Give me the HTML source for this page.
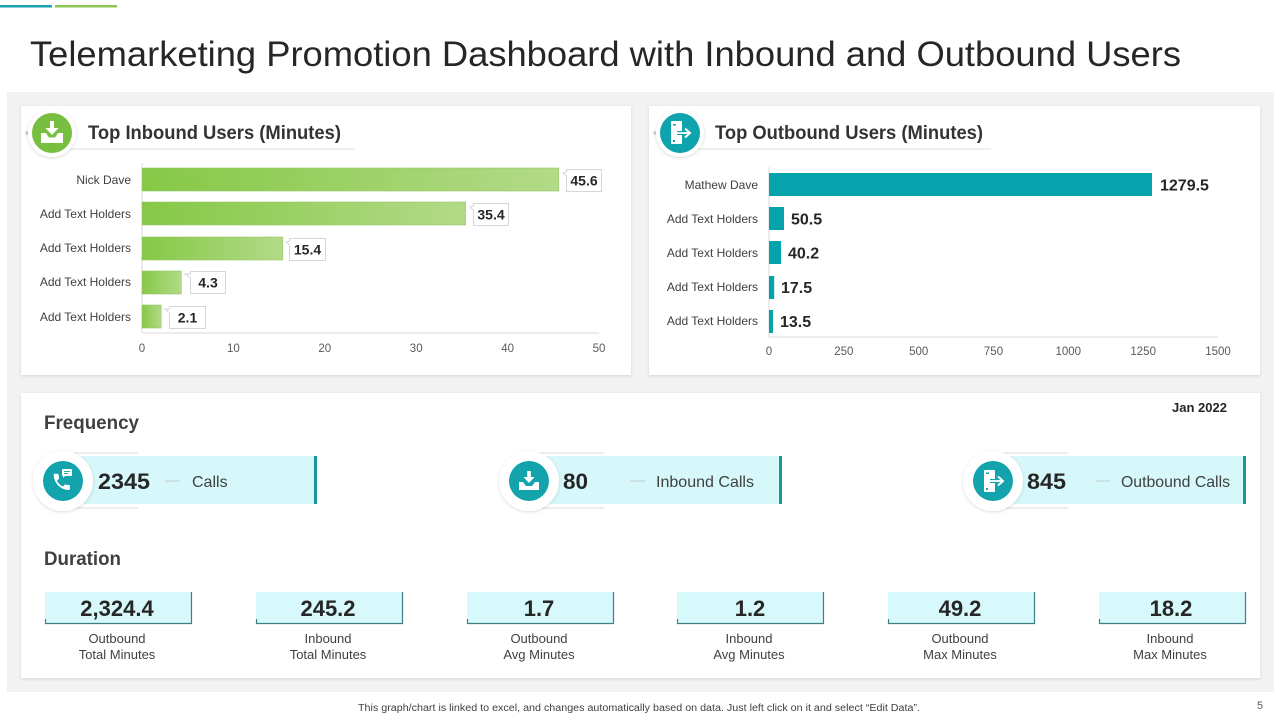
<!DOCTYPE html>
<html><head><meta charset="utf-8"><style>
html,body{margin:0;padding:0;background:#fff;}
svg{display:block;}
text{font-family:"Liberation Sans",Arial,sans-serif;}
</style></head><body>
<svg width="1280" height="720" viewBox="0 0 1280 720" xmlns="http://www.w3.org/2000/svg">
<defs>
<linearGradient id="g" x1="0" x2="1" y1="0" y2="0"><stop offset="0" stop-color="#86c846"/><stop offset="1" stop-color="#b3da88"/></linearGradient>
<filter id="sh" x="-5%" y="-5%" width="110%" height="110%"><feDropShadow dx="0" dy="1" stdDeviation="1.5" flood-color="#000" flood-opacity="0.12"/></filter>
<filter id="sh2" x="-30%" y="-30%" width="160%" height="160%"><feDropShadow dx="0" dy="1" stdDeviation="1.5" flood-color="#000" flood-opacity="0.15"/></filter>
</defs>
<rect width="1280" height="720" fill="#fff"/>
<rect x="0" y="5" width="52" height="2.5" fill="#1aa3ad"/>
<rect x="55" y="5" width="62" height="2.5" fill="#8cc751"/>
<text x="30" y="66" font-size="35" fill="#262626" textLength="1151" lengthAdjust="spacingAndGlyphs">Telemarketing Promotion Dashboard with Inbound and Outbound Users</text>

<rect x="7" y="92" width="1267" height="600" fill="#f2f2f2"/>
<rect x="21" y="106" width="610" height="269" fill="#fff" filter="url(#sh)"/>
<rect x="649" y="106" width="611" height="269" fill="#fff" filter="url(#sh)"/>
<rect x="21" y="393" width="1239" height="285" fill="#fff" filter="url(#sh)"/>

<!-- Inbound header -->
<line x1="52" y1="149" x2="355" y2="149" stroke="#e4e4e4" stroke-width="1.2"/>
<circle cx="27" cy="133" r="2" fill="#d4d4d4"/>
<circle cx="52" cy="133" r="24" fill="#fff" filter="url(#sh2)"/>
<circle cx="52" cy="133" r="20" fill="#78be40"/>
<path d="M41 133 L46 133 L49 137.5 L55 137.5 L58 133 L63 133 L63 143 L41 143 Z" fill="#fff"/>
<rect x="50" y="121" width="4" height="8" fill="#fff"/>
<polygon points="45.5,128 58.5,128 52,135" fill="#fff"/>
<text x="88" y="139" font-size="19" font-weight="bold" fill="#333" textLength="253" lengthAdjust="spacingAndGlyphs">Top Inbound Users (Minutes)</text>

<!-- Outbound header -->
<line x1="680" y1="149" x2="991" y2="149" stroke="#e4e4e4" stroke-width="1.2"/>
<circle cx="655" cy="133" r="2" fill="#d4d4d4"/>
<circle cx="680" cy="133" r="24" fill="#fff" filter="url(#sh2)"/>
<circle cx="680" cy="133" r="20" fill="#0fa3ad"/>
<rect x="671" y="121" width="11" height="23" rx="1" fill="#fff"/>
<rect x="673" y="124" width="3" height="1.5" fill="#0fa3ad"/>
<rect x="673" y="140" width="2" height="2" fill="#0fa3ad"/>
<path d="M677 133 H689" stroke="#0fa3ad" stroke-width="4"/>
<path d="M677 133 H689" stroke="#fff" stroke-width="1.8"/>
<polyline points="685,128.5 690,133 685,137.5" fill="none" stroke="#fff" stroke-width="2"/>
<text x="715" y="139" font-size="19" font-weight="bold" fill="#333" textLength="268" lengthAdjust="spacingAndGlyphs">Top Outbound Users (Minutes)</text>

<!-- Inbound chart -->
<line x1="142" y1="163" x2="142" y2="333" stroke="#d9d9d9"/>
<line x1="142" y1="333" x2="599" y2="333" stroke="#d9d9d9"/>
<g font-size="12" fill="#404040" text-anchor="end">
<text x="131" y="184">Nick Dave</text>
<text x="131" y="218">Add Text Holders</text>
<text x="131" y="252">Add Text Holders</text>
<text x="131" y="286">Add Text Holders</text>
<text x="131" y="321">Add Text Holders</text>
</g>
<g fill="url(#g)" stroke="#93c865" stroke-width="0.6">
<rect x="142" y="168" width="416.8" height="23"/>
<rect x="142" y="202" width="323.6" height="23"/>
<rect x="142" y="237" width="140.8" height="23"/>
<rect x="142" y="271" width="39.3" height="23"/>
<rect x="142" y="305" width="19.2" height="23"/>
</g>
<g fill="#fff" stroke="#d6d6d6" stroke-width="1">
<path d="M566.5 169.5 H601.5 V191.5 H566.5 V176 L563 173 L566.5 172 Z"/>
<path d="M473.5 203.5 H508.5 V225.5 H473.5 V210 L470 207 L473.5 206 Z"/>
<path d="M289.5 238.5 H325.5 V260.5 H289.5 V245 L286 242 L289.5 241 Z"/>
<path d="M190.5 271.5 H225.5 V293.5 H190.5 V278 L185 274 L190.5 274 Z"/>
<path d="M169.5 306.5 H205.5 V328.5 H169.5 V313 L165 309 L169.5 309 Z"/>
</g>
<g font-size="14" font-weight="bold" fill="#262626" text-anchor="middle">
<text x="584" y="185.5">45.6</text>
<text x="491" y="219.5">35.4</text>
<text x="307.5" y="254.5">15.4</text>
<text x="208" y="287.5">4.3</text>
<text x="187.5" y="322.5">2.1</text>
</g>
<g font-size="11.5" fill="#595959" text-anchor="middle">
<text x="142" y="352">0</text>
<text x="233.4" y="352">10</text>
<text x="324.8" y="352">20</text>
<text x="416.2" y="352">30</text>
<text x="507.6" y="352">40</text>
<text x="599" y="352">50</text>
</g>

<!-- Outbound chart -->
<line x1="769" y1="167" x2="769" y2="337" stroke="#d9d9d9"/>
<line x1="769" y1="337" x2="1218" y2="337" stroke="#d9d9d9"/>
<g font-size="12" fill="#404040" text-anchor="end">
<text x="758" y="189">Mathew Dave</text>
<text x="758" y="223">Add Text Holders</text>
<text x="758" y="257">Add Text Holders</text>
<text x="758" y="291">Add Text Holders</text>
<text x="758" y="325">Add Text Holders</text>
</g>
<g fill="#06a3ad">
<rect x="769" y="173" width="383" height="23"/>
<rect x="769" y="207" width="15" height="23"/>
<rect x="769" y="241" width="12" height="23"/>
<rect x="769" y="276" width="5.2" height="23"/>
<rect x="769" y="310" width="4" height="23"/>
</g>
<g font-size="16" font-weight="bold" fill="#262626">
<text x="1160" y="190.5">1279.5</text>
<text x="791" y="224.5">50.5</text>
<text x="788" y="258.5">40.2</text>
<text x="781" y="293">17.5</text>
<text x="780" y="327">13.5</text>
</g>
<g font-size="11.5" fill="#595959" text-anchor="middle">
<text x="769" y="355">0</text>
<text x="843.8" y="355">250</text>
<text x="918.7" y="355">500</text>
<text x="993.5" y="355">750</text>
<text x="1068.3" y="355">1000</text>
<text x="1143.2" y="355">1250</text>
<text x="1218" y="355">1500</text>
</g>

<!-- Frequency -->
<text x="44" y="429" font-size="19" font-weight="bold" fill="#404040" textLength="95" lengthAdjust="spacingAndGlyphs">Frequency</text>
<text x="1172" y="412" font-size="12.5" font-weight="bold" fill="#262626" textLength="55" lengthAdjust="spacingAndGlyphs">Jan 2022</text>

<!-- pill 1 -->
<line x1="63" y1="453" x2="138" y2="453" stroke="#dcdcdc"/>
<line x1="63" y1="508" x2="138" y2="508" stroke="#dcdcdc"/>
<rect x="63" y="456" width="251" height="48" fill="#d6f8fa"/>
<rect x="314" y="456" width="3" height="48" fill="#16979e"/>
<circle cx="63" cy="481" r="30" fill="#fff" filter="url(#sh2)"/>
<circle cx="63" cy="481" r="20" fill="#12a3ad"/>
<path transform="translate(51,471) scale(0.9)" d="M6.62 10.79c1.44 2.83 3.76 5.14 6.59 6.59l2.2-2.2c.27-.27.67-.36 1.02-.24 1.12.37 2.33.57 3.57.57.55 0 1 .45 1 1V20c0 .55-.45 1-1 1-9.39 0-17-7.61-17-17 0-.55.45-1 1-1h3.5c.55 0 1 .45 1 1 0 1.25.2 2.45.57 3.57.11.35.03.74-.25 1.02l-2.2 2.2z" fill="#fff"/>
<rect x="62" y="469" width="10" height="7" rx="1" fill="#fff"/>
<polygon points="63,475 66,475 63,478" fill="#fff"/>
<line x1="64" y1="471.5" x2="70" y2="471.5" stroke="#12a3ad" stroke-width="0.9"/>
<line x1="64" y1="473.5" x2="68" y2="473.5" stroke="#12a3ad" stroke-width="0.9"/>
<text x="98" y="489" font-size="22" font-weight="bold" fill="#262626" textLength="52" lengthAdjust="spacingAndGlyphs">2345</text>
<line x1="165" y1="481" x2="180" y2="481" stroke="#c8c8c8"/>
<text x="192" y="487" font-size="16" fill="#404040">Calls</text>

<!-- pill 2 -->
<line x1="529" y1="453" x2="604" y2="453" stroke="#dcdcdc"/>
<line x1="529" y1="508" x2="604" y2="508" stroke="#dcdcdc"/>
<rect x="529" y="456" width="250" height="48" fill="#d6f8fa"/>
<rect x="779" y="456" width="3" height="48" fill="#16979e"/>
<circle cx="529" cy="481" r="30" fill="#fff" filter="url(#sh2)"/>
<circle cx="529" cy="481" r="20" fill="#12a3ad"/>
<path d="M519 482 L523 482 L526 486 L532 486 L535 482 L539 482 L539 490 L519 490 Z" fill="#fff"/>
<rect x="527.2" y="471" width="3.6" height="7" fill="#fff"/>
<polygon points="523.5,477 534.5,477 529,483" fill="#fff"/>
<text x="563" y="489" font-size="22" font-weight="bold" fill="#262626" textLength="25" lengthAdjust="spacingAndGlyphs">80</text>
<line x1="630" y1="481" x2="645" y2="481" stroke="#c8c8c8"/>
<text x="656" y="487" font-size="16" fill="#404040" textLength="98" lengthAdjust="spacingAndGlyphs">Inbound Calls</text>

<!-- pill 3 -->
<line x1="993" y1="453" x2="1068" y2="453" stroke="#dcdcdc"/>
<line x1="993" y1="508" x2="1068" y2="508" stroke="#dcdcdc"/>
<rect x="993" y="456" width="250" height="48" fill="#d6f8fa"/>
<rect x="1243" y="456" width="3" height="48" fill="#16979e"/>
<circle cx="993" cy="481" r="30" fill="#fff" filter="url(#sh2)"/>
<circle cx="993" cy="481" r="20" fill="#12a3ad"/>
<rect x="984" y="470" width="11" height="22" rx="1" fill="#fff"/>
<rect x="986" y="472.5" width="3" height="1.5" fill="#12a3ad"/>
<rect x="986" y="488" width="2" height="2" fill="#12a3ad"/>
<path d="M990 481 H1002" stroke="#12a3ad" stroke-width="4"/>
<path d="M990 481 H1002" stroke="#fff" stroke-width="1.8"/>
<polyline points="998,476.5 1003,481 998,485.5" fill="none" stroke="#fff" stroke-width="2"/>
<text x="1027" y="489" font-size="22" font-weight="bold" fill="#262626" textLength="39" lengthAdjust="spacingAndGlyphs">845</text>
<line x1="1096" y1="481" x2="1110" y2="481" stroke="#c8c8c8"/>
<text x="1121" y="487" font-size="16" fill="#404040" textLength="109" lengthAdjust="spacingAndGlyphs">Outbound Calls</text>

<!-- Duration -->
<text x="44" y="565" font-size="19" font-weight="bold" fill="#404040" textLength="77" lengthAdjust="spacingAndGlyphs">Duration</text>
<g fill="#d8f9fb">
<rect x="45" y="592" width="147" height="32"/>
<rect x="256" y="592" width="147" height="32"/>
<rect x="467" y="592" width="147" height="32"/>
<rect x="677" y="592" width="147" height="32"/>
<rect x="888" y="592" width="147" height="32"/>
<rect x="1099" y="592" width="147" height="32"/>
</g>
<g fill="none" stroke="#3d7f84" stroke-width="1.2">
<path d="M45.5 619 V623.5 H191.5 V592"/>
<path d="M256.5 619 V623.5 H402.5 V592"/>
<path d="M467.5 619 V623.5 H613.5 V592"/>
<path d="M677.5 619 V623.5 H823.5 V592"/>
<path d="M888.5 619 V623.5 H1034.5 V592"/>
<path d="M1099.5 619 V623.5 H1245.5 V592"/>
</g>
<g font-size="22" font-weight="bold" fill="#262626" text-anchor="middle">
<text x="117" y="616">2,324.4</text>
<text x="328" y="616">245.2</text>
<text x="539" y="616">1.7</text>
<text x="750" y="616">1.2</text>
<text x="960" y="616">49.2</text>
<text x="1171" y="616">18.2</text>
</g>
<g font-size="13" fill="#404040" text-anchor="middle">
<text x="117" y="643">Outbound</text><text x="117" y="659">Total Minutes</text>
<text x="328" y="643">Inbound</text><text x="328" y="659">Total Minutes</text>
<text x="539" y="643">Outbound</text><text x="539" y="659">Avg Minutes</text>
<text x="749" y="643">Inbound</text><text x="749" y="659">Avg Minutes</text>
<text x="960" y="643">Outbound</text><text x="960" y="659">Max Minutes</text>
<text x="1170" y="643">Inbound</text><text x="1170" y="659">Max Minutes</text>
</g>

<!-- Footer -->
<text x="358" y="711" font-size="10" fill="#404040" textLength="562" lengthAdjust="spacingAndGlyphs">This graph/chart is linked to excel, and changes automatically based on data. Just left click on it and select “Edit Data”.</text>
<text x="1257" y="709" font-size="11" fill="#595959">5</text>
</svg>
</body></html>
